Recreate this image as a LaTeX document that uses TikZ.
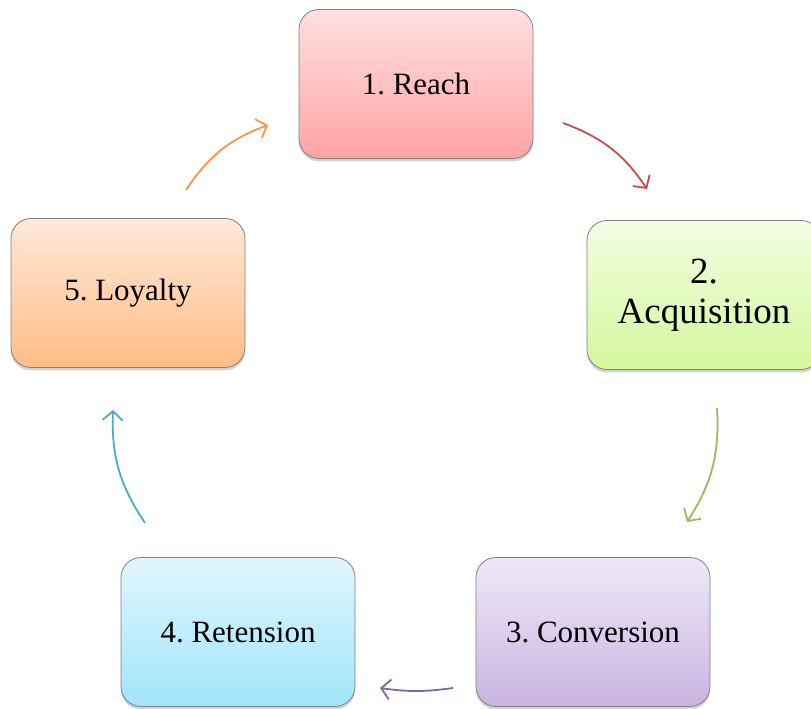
\documentclass[tikz,border=0pt]{standalone}
\usepackage{fontspec}
\setmainfont{Liberation Serif}
\usetikzlibrary{arrows.meta,shadows}
\definecolor{c1t}{HTML}{FFE0E1}\definecolor{c1b}{HTML}{FFA3A4}
\definecolor{c2t}{HTML}{F3FDE2}\definecolor{c2b}{HTML}{D4F79C}
\definecolor{c3t}{HTML}{EEE8F7}\definecolor{c3b}{HTML}{CAB4E1}
\definecolor{c4t}{HTML}{E0F6FD}\definecolor{c4b}{HTML}{A0E5FA}
\definecolor{c5t}{HTML}{FFE8D8}\definecolor{c5b}{HTML}{FFBD88}
\definecolor{a1}{HTML}{C0504D}\definecolor{a2}{HTML}{9BBB59}
\definecolor{a3}{HTML}{8064A2}\definecolor{a4}{HTML}{4BACC6}
\definecolor{a5}{HTML}{F79646}
\tikzset{
  stagebox/.style={rectangle, rounded corners=20pt, draw=black!50, line width=0.8pt,
    minimum width=234pt, minimum height=149pt, inner sep=2pt, align=center,
    font=\fontsize{31}{36}\selectfont\frenchspacing,
    drop shadow={opacity=0.35, shadow xshift=0pt, shadow yshift=-3pt}},
  cyc/.style={line width=1.8pt, -{Straight Barb[length=9pt,width=20pt,line width=1.8pt]}, bend left=18}
}
\begin{document}
\frenchspacing
\begin{tikzpicture}[x=1pt,y=1pt]
\useasboundingbox (0,0) rectangle (811,709);
\node[stagebox, top color=c1t, bottom color=c1b] (n1) at (416,625) {1. Reach};
\node[stagebox, top color=c2t, bottom color=c2b, font=\fontsize{37}{40}\selectfont\frenchspacing] (n2) at (704,414) {2.\\Acquisition};
\node[stagebox, top color=c3t, bottom color=c3b] (n3) at (593,77) {3. Conversion};
\node[stagebox, top color=c4t, bottom color=c4b] (n4) at (238,77) {4. Retension};
\node[stagebox, top color=c5t, bottom color=c5b] (n5) at (128,416) {5. Loyalty};
\coordinate (s1) at (563,586); \coordinate (e1) at (647,520);
\coordinate (s2) at (717,301); \coordinate (e2) at (687,187);
\coordinate (s3) at (453,21);  \coordinate (e3) at (380,21);
\coordinate (s4) at (145,186); \coordinate (e4) at (113,299);
\coordinate (s5) at (186,519); \coordinate (e5) at (268,584);
\draw[cyc, a1] (s1) to (e1);
\draw[cyc, a2] (s2) to (e2);
\draw[cyc, a3, bend left=8] (s3) to (e3);
\draw[cyc, a4] (s4) to (e4);
\draw[cyc, a5] (s5) to (e5);
\end{tikzpicture}
\end{document}
